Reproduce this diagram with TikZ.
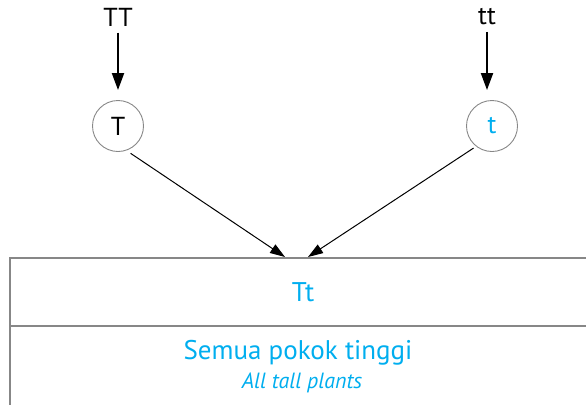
\documentclass[tikz,border=0pt]{standalone}
\usepackage{fontspec}
\setmainfont{PT Sans}
\usetikzlibrary{arrows.meta}
\definecolor{offcyan}{RGB}{0,174,239}
\definecolor{rulegray}{RGB}{135,135,135}

\begin{document}
\begin{tikzpicture}[x=1pt, y=-1pt,
    parent/.style={font=\fontsize{26}{28}\selectfont},
    gamete/.style={draw=rulegray, circle, line width=0.9pt, minimum size=51pt,
                   inner sep=0pt, font=\fontsize{26}{28}\selectfont},
    down/.style={-{Triangle[length=17pt, width=12pt]}, line width=2pt},
    cross/.style={-{Triangle[length=15pt, width=10pt]}, line width=1pt},
    rule/.style={draw=rulegray, line width=1.2pt},
    result/.style={text=offcyan, font=\fontsize{27}{30}\selectfont},
    gloss/.style={text=offcyan, font=\fontsize{22}{24}\selectfont\itshape},
]
    \useasboundingbox (0,0) rectangle (586,405);

    % parents and gametes
    \node[parent] (pTT) at (118,17) {TT};
    \node[parent] (ptt) at (487,17) {tt};
    \node[gamete] (gT) at (118,126) {T};
    \node[gamete, text=offcyan] (gt) at (492,126) {t};
    \draw[down, shorten <=3pt, shorten >=10pt] (pTT.south) -- (pTT.south |- gT.north);
    \draw[down, shorten <=3pt, shorten >=10pt] (ptt.south) -- (ptt.south |- gt.north);

    % table frame
    \coordinate (topL) at (10,258);
    \coordinate (topR) at (586,258);
    \coordinate (midL) at (10,326);
    \coordinate (midR) at (586,326);
    \coordinate (botL) at (10,405);
    \draw[rule] (topR) -- (topL) -- (botL);
    \draw[rule] (midL) -- (midR);

    % crossing arrows
    \coordinate (inL) at (285,257);
    \coordinate (inR) at (308,257);
    \draw[cross, shorten <=5pt] (gT.-71) -- (inL);
    \draw[cross, shorten <=3pt] (gt.-128) -- (inR);

    % offspring
    \node[result] (child) at (303,292) {Tt};
    \node[result] (malay) at (298,353) {Semua pokok tinggi};
    \node[gloss] (english) at (302,383) {All tall plants};

\end{tikzpicture}
\end{document}
